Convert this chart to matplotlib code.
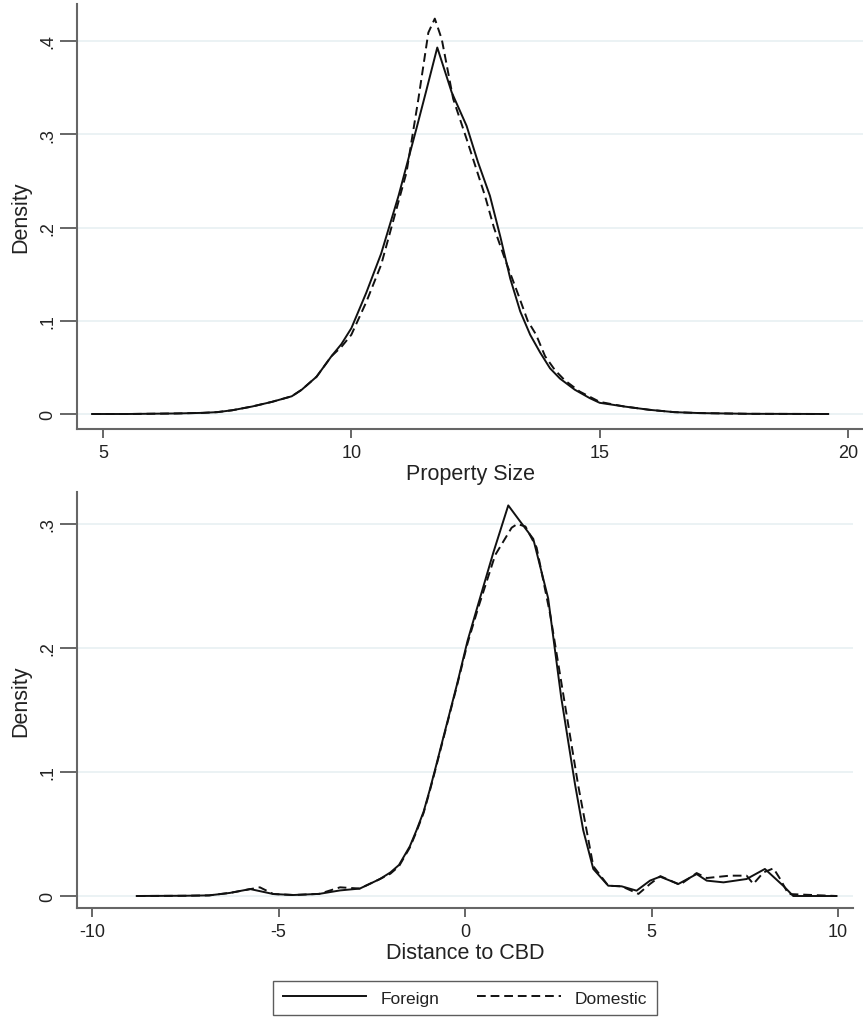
import matplotlib
matplotlib.use("Agg")
import matplotlib.pyplot as plt
from matplotlib.ticker import FuncFormatter

plt.rcParams['font.family'] = ['Liberation Sans', 'DejaVu Sans']
plt.rcParams['axes.unicode_minus'] = False

# ---------------- data: Property Size ----------------
size_foreign_x = [4.78, 5.5, 6.0, 6.5, 7.0, 7.3, 7.6, 8.0, 8.4, 8.8, 9.0, 9.3, 9.6, 9.8,
                  10.0, 10.3, 10.6, 10.95, 11.31, 11.5, 11.73, 12.02, 12.32, 12.55, 12.79,
                  13.0, 13.2, 13.4, 13.6, 13.8, 14.0, 14.2, 14.5, 14.8, 15.0, 15.5, 16.0,
                  16.5, 17.0, 18.0, 19.6]
size_foreign_y = [0.0, 0.0, 0.0003, 0.0006, 0.0012, 0.002, 0.004, 0.008, 0.013, 0.019, 0.026,
                  0.040, 0.062, 0.075, 0.092, 0.130, 0.172, 0.234, 0.306, 0.345, 0.393, 0.345,
                  0.309, 0.270, 0.234, 0.190, 0.145, 0.110, 0.085, 0.066, 0.049, 0.038, 0.026,
                  0.017, 0.012, 0.008, 0.0045, 0.002, 0.001, 0.0002, 0.0]

size_domestic_x = [4.78, 5.5, 6.0, 6.5, 7.0, 7.3, 7.6, 8.0, 8.4, 8.8, 9.0, 9.3, 9.6, 9.8,
                   10.0, 10.3, 10.6, 11.11, 11.35, 11.55, 11.68, 11.82, 12.05, 12.32, 12.69,
                   12.87, 13.1, 13.36, 13.55, 13.72, 13.9, 14.1, 14.3, 14.6, 15.0, 15.5, 16.0,
                   16.5, 17.0, 18.0, 19.6]
size_domestic_y = [0.0, 0.0, 0.0003, 0.0006, 0.0012, 0.002, 0.004, 0.008, 0.013, 0.019, 0.026,
                   0.040, 0.062, 0.072, 0.085, 0.120, 0.160, 0.259, 0.338, 0.409, 0.424, 0.402,
                   0.338, 0.295, 0.234, 0.200, 0.165, 0.128, 0.100, 0.085, 0.062, 0.047, 0.036,
                   0.024, 0.013, 0.008, 0.0045, 0.002, 0.001, 0.0002, 0.0]

# ---------------- data: Distance to CBD ----------------
dist_foreign_x = [-8.8, -7.5, -6.86, -6.3, -5.76, -5.14, -4.6, -3.91, -3.35, -2.82, -2.28,
                  -2.0, -1.77, -1.48, -1.3, -1.11, -0.95, -0.81, -0.52, -0.22, 0.07, 0.37,
                  0.76, 1.16, 1.48, 1.83, 2.23, 2.58, 2.95, 3.17, 3.44, 3.84, 4.2, 4.6, 4.96,
                  5.23, 5.72, 6.21, 6.48, 6.93, 7.55, 8.04, 8.53, 8.8, 9.96]
dist_foreign_y = [0.0, 0.0002, 0.0005, 0.0025, 0.0056, 0.0016, 0.0008, 0.0017, 0.0045, 0.006,
                  0.0137, 0.019, 0.025, 0.040, 0.053, 0.068, 0.085, 0.101, 0.135, 0.170, 0.206,
                  0.237, 0.277, 0.315, 0.302, 0.288, 0.240, 0.160, 0.090, 0.053, 0.0218, 0.0083,
                  0.0078, 0.0043, 0.0124, 0.0156, 0.0097, 0.0177, 0.0124, 0.011, 0.0137, 0.0218,
                  0.0083, 0.0, 0.0]

dist_domestic_x = [-8.8, -7.5, -6.86, -6.3, -5.5, -5.14, -4.6, -3.91, -3.35, -2.82, -2.28,
                   -2.0, -1.77, -1.48, -1.3, -1.11, -0.95, -0.81, -0.52, -0.22, 0.07, 0.37,
                   0.81, 1.25, 1.4, 1.62, 1.92, 2.29, 2.66, 3.03, 3.44, 3.84, 4.2, 4.65, 4.96,
                   5.24, 5.76, 6.21, 6.48, 7.1, 7.55, 7.73, 8.0, 8.27, 8.45, 8.67, 9.96]
dist_domestic_y = [0.0, 0.0002, 0.0005, 0.0025, 0.007, 0.0016, 0.0008, 0.0017, 0.007, 0.006,
                   0.0137, 0.018, 0.024, 0.039, 0.052, 0.067, 0.084, 0.100, 0.134, 0.169,
                   0.204, 0.234, 0.275, 0.297, 0.300, 0.298, 0.281, 0.226, 0.158, 0.090, 0.024,
                   0.0083, 0.0078, 0.0017, 0.0097, 0.016, 0.009, 0.0185, 0.0145, 0.0164, 0.0164,
                   0.0097, 0.019, 0.0223, 0.0137, 0.0016, 0.0]

size_xticks = [5, 10, 15, 20]
dist_xticks = [-10, -5, 0, 5, 10]
size_yticks = [0, 0.1, 0.2, 0.3, 0.4]
dist_yticks = [0, 0.1, 0.2, 0.3]
series_labels = ["Foreign", "Domestic"]
xlabels = ["Property Size", "Distance to CBD"]

# ---------------- figure ----------------
W, H = 863, 1020
fig = plt.figure(figsize=(W / 100, H / 100), dpi=100)

spine_col = '#666666'
grid_col = '#e8f0f2'
text_col = '#222222'
line_col = '#111111'
dash = (0, (4.5, 2.5))


def fmt(v, pos):
    if abs(v) < 1e-9:
        return '0'
    return ('%.1f' % v).lstrip('0')


def style(ax, xticks, yticks, xlabel):
    for s in ['top', 'right']:
        ax.spines[s].set_visible(False)
    for s in ['left', 'bottom']:
        ax.spines[s].set_color(spine_col)
        ax.spines[s].set_linewidth(1.5)
    ax.set_xticks(xticks)
    ax.set_yticks(yticks)
    ax.yaxis.set_major_formatter(FuncFormatter(fmt))
    ax.tick_params(axis='x', length=6.5, width=1.4, color=spine_col, labelsize=13,
                   labelcolor=text_col, pad=4)
    ax.tick_params(axis='y', length=12, width=1.4, color=spine_col, labelsize=13,
                   labelcolor=text_col, pad=3)
    for lab in ax.get_yticklabels():
        lab.set_rotation(90)
        lab.set_va('center')
    ax.grid(axis='y', color=grid_col, linewidth=1.2)
    ax.set_axisbelow(True)
    ax.set_xlabel(xlabel, fontsize=15.5, color=text_col, labelpad=2)
    ax.set_ylabel('Density', fontsize=15.5, color=text_col, labelpad=6)


# top panel
ax1 = fig.add_axes([77 / W, 1 - 430 / H, 786 / W, 425 / H])
ax1.plot(size_foreign_x, size_foreign_y, color=line_col, lw=1.4, label=series_labels[0])
ax1.plot(size_domestic_x, size_domestic_y, color=line_col, lw=1.4, linestyle=dash,
         label=series_labels[1])
ax1.set_xlim(5 + (77 - 103) / 49.67, 5 + (863 - 103) / 49.67)
ax1.set_ylim((415 - 430) / 932.5, (415 - 5) / 932.5)
style(ax1, size_xticks, size_yticks, xlabels[0])

# bottom panel
ax2 = fig.add_axes([77 / W, 1 - 909 / H, 776 / W, 416 / H])
l1, = ax2.plot(dist_foreign_x, dist_foreign_y, color=line_col, lw=1.4, label=series_labels[0])
l2, = ax2.plot(dist_domestic_x, dist_domestic_y, color=line_col, lw=1.4, linestyle=dash,
               label=series_labels[1])
ax2.set_xlim((77 - 465) / 37.3, (853 - 465) / 37.3)
ax2.set_ylim((897 - 909) / 1240, (897 - 493) / 1240)
style(ax2, dist_xticks, dist_yticks, xlabels[1])

leg = fig.legend(handles=[l1, l2], labels=series_labels, loc='center',
                 bbox_to_anchor=(465 / W, 1 - 999 / H), ncol=2, frameon=True,
                 fancybox=False, edgecolor='#333333', fontsize=12.5, handlelength=4.8,
                 handletextpad=0.8, columnspacing=2.2, borderpad=0.55, borderaxespad=0)
leg.get_frame().set_linewidth(1.0)
for t in leg.get_texts():
    t.set_color(text_col)

fig.savefig('out.png', dpi=100, facecolor='white')
